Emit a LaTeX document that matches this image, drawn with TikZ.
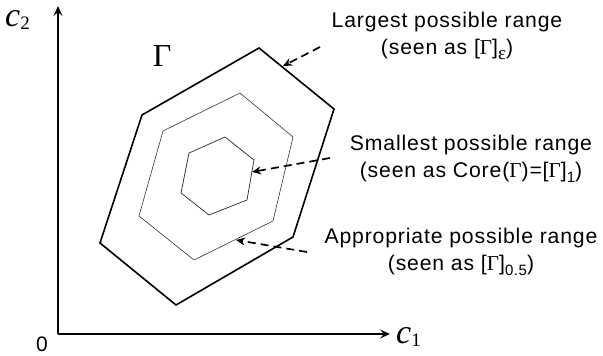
\documentclass[tikz,border=0pt]{standalone}
\usepackage{fontspec}
\setmainfont{Liberation Sans}[LetterSpace=4]
\newfontfamily\tms{Liberation Serif}
\usetikzlibrary{arrows.meta}
\newcommand{\lowsub}[1]{\raisebox{-0.4ex}{\fontsize{15}{15}\selectfont #1}}
\newcommand{\axsub}[1]{\raisebox{-0.25ex}{\fontsize{19}{19}\selectfont #1}}
\tikzset{
  axis/.style={line width=2.6pt, -{Stealth[length=10pt,width=9pt,inset=4pt,open,line width=1.4pt]}},
  outerhex/.style={line width=1.6pt, line join=miter},
  midhex/.style={line width=0.6pt, draw=black!80},
  innerhex/.style={line width=0.7pt, draw=black!85},
  pointer/.style={line width=1.7pt, dash pattern=on 8pt off 5pt, -{Stealth[length=9pt,width=8pt]}},
  lbl/.style={align=center, font=\fontsize{21.2}{27}\selectfont, inner sep=0pt},
}
\begin{document}
\begin{tikzpicture}[x=1pt,y=-1pt]
\useasboundingbox (0,0) rectangle (603,356);
% axes
\coordinate (O) at (58,334);
\coordinate (Y) at (58,6);
\coordinate (X) at (390,334);
\draw[axis] (O) -- (Y);
\draw[axis] (O) -- (X);
\node[anchor=base west, font=\tms\itshape\fontsize{34}{34}\selectfont, inner sep=0pt] (c2) at (5,26) {c\axsub{\upshape 2}};
\node[anchor=base west, font=\tms\itshape\fontsize{34}{34}\selectfont, inner sep=0pt] (c1) at (396,343) {c\axsub{\upshape 1}};
\node[anchor=base, font=\fontsize{21}{21}\selectfont, inner sep=0pt] (zero) at (42,351) {0};
\node[anchor=base, font=\tms\fontsize{32}{32}\selectfont, inner sep=0pt] (G) at (162,66) {Γ};
% hexagons
\draw[outerhex] (259,48) -- (334,109) -- (293,237) -- (176,305) -- (100,243) -- (142,115) -- cycle;
\draw[midhex] (240,93) -- (293,137) -- (273,221) -- (194,260) -- (139,216) -- (163,131) -- cycle;
\draw[innerhex] (225,137) -- (254,160) -- (247,200) -- (209,215) -- (181,193) -- (189,153) -- cycle;
% labels
\node[lbl] (L) at (447,36) {Largest possible range\\(seen as [{\tms Γ}]\raisebox{-0.4ex}{\tms\fontsize{19}{19}\selectfont ε})};
\node[lbl] (S) at (471,159) {Smallest possible range\\(seen as Core({\tms Γ})=[{\tms Γ}]\lowsub{1})};
\node[lbl] (A) at (461,252) {Appropriate possible range\\(seen as [{\tms Γ}]\lowsub{0.5})};
% pointers
\coordinate (l0) at (320,47);
\coordinate (l1) at (283,66);
\coordinate (s0) at (330,158);
\coordinate (s1) at (252,172);
\coordinate (a0) at (307,252);
\coordinate (a1) at (236,240);
\draw[pointer] (l0) -- (l1);
\draw[pointer] (s0) -- (s1);
\draw[pointer] (a0) -- (a1);
\end{tikzpicture}
\end{document}
